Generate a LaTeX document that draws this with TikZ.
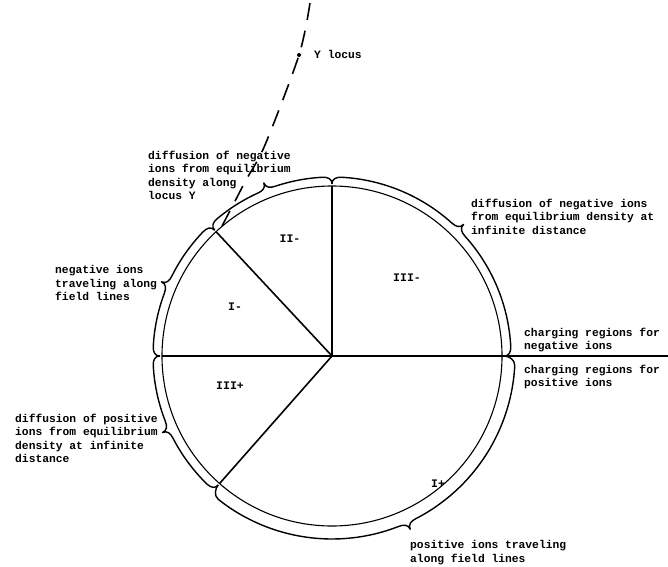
\documentclass[tikz,border=0pt]{standalone}
\usepackage{fontspec}
\setmonofont{Liberation Mono}
\newcommand\mybrace[3]{%
  \pgfmathsetmacro\bmid{(#1+#2)/2}%
  \draw[bracestyle] (#1:172) .. controls (#1:177) and (#1+1.2:#3) .. (#1+3:#3)
    arc[start angle=#1+3, end angle=\bmid-3, radius=#3]
    .. controls (\bmid-1.2:#3) and (\bmid:#3+2) .. (\bmid:#3+7)
    .. controls (\bmid:#3+2) and (\bmid+1.2:#3) .. (\bmid+3:#3)
    arc[start angle=\bmid+3, end angle=#2-3, radius=#3]
    .. controls (#2-1.2:#3) and (#2:177) .. (#2:172);
}
\begin{document}
\begin{tikzpicture}[x=1pt,y=1pt,
  lbl/.style={font=\ttfamily\bfseries\fontsize{11.3}{13.5}\selectfont, inner sep=0pt, align=left, anchor=north west},
  reg/.style={font=\ttfamily\bfseries\fontsize{11.5}{13.5}\selectfont, inner sep=0pt},
  bracestyle/.style={line width=1.4pt, line join=round},
  radial/.style={line width=1.6pt},
  circ/.style={line width=1.1pt},
  locus/.style={line width=1.6pt, dash pattern=on 17pt off 11pt}]
\useasboundingbox (0,0) rectangle (668,566);
\begin{scope}[shift={(332,210)}]
  \coordinate (O) at (0,0);
  \coordinate (pT) at (90:170);
  \coordinate (pUL) at (133:170);
  \coordinate (pL) at (180:170);
  \coordinate (pLL) at (228.6:170);
  \coordinate (pR) at (336,0);
  \draw[circ] (O) circle[radius=170];
  \draw[radial] (pL) -- (pR);
  \draw[radial] (O) -- (pT);
  \draw[radial] (O) -- (pUL);
  \draw[radial] (O) -- (pLL);
  \mybrace{0}{90}{179}
  \mybrace{90}{133}{179}
  \mybrace{133}{180}{179}
  \mybrace{180}{228.6}{179}
  \mybrace{228.6}{360}{183}
\end{scope}
\coordinate (Ystart) at (222,340);
\coordinate (Yend) at (310,563);
\draw[locus] plot[smooth] coordinates {(Ystart) (233,361) (246,386) (265,421) (299,511) (Yend)};
\fill (299,511) circle[radius=2];
\node[reg] (rIIm) at (290,327) {II-};
\node[reg] (rIm) at (235,259) {I-};
\node[reg] (rIIIm) at (407,288) {III-};
\node[reg] (rIIIp) at (230,180) {III+};
\node[reg] (rIp) at (438,82) {I+};
\node[lbl] (tY) at (314,515.5) {Y locus};
\node[lbl] (tDiffY) at (148,415.5) {diffusion of negative\\ions from equilibrium\\density along\\locus Y};
\node[lbl] (tDiffNeg) at (471,367.5) {diffusion of negative ions\\from equilibrium density at\\infinite distance};
\node[lbl] (tChNeg) at (524,238.5) {charging regions for\\negative ions};
\node[lbl] (tChPos) at (524,201.5) {charging regions for\\positive ions};
\node[lbl] (tNegTr) at (55,300.5) {negative ions\\traveling along\\field lines};
\node[lbl] (tDiffPos) at (15,152.5) {diffusion of positive\\ions from equilibrium\\density at infinite\\distance};
\node[lbl] (tPosTr) at (410,25.5) {positive ions traveling\\along field lines};
\end{tikzpicture}
\end{document}
